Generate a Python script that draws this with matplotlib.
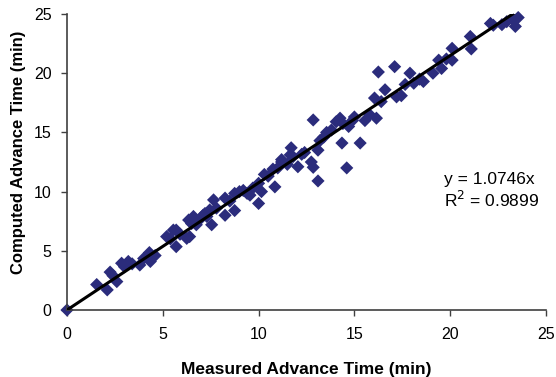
import matplotlib.pyplot as plt

# measured vs computed advance time (min)
measured = [
    0.0, 1.55, 2.1, 2.25, 2.4, 2.6, 2.85, 3.0, 3.2, 3.4, 3.8, 4.0, 4.3,
    4.35, 4.6, 5.2, 5.4, 5.55, 5.7, 5.7, 5.9, 6.25, 6.35, 6.4, 6.5, 6.6,
    6.75, 6.9, 7.1, 7.2, 7.3, 7.45, 7.55, 7.65, 7.8, 8.25, 8.25, 8.5,
    8.75, 8.75, 9.0, 9.2, 9.4, 9.55, 9.7, 10.0, 10.0, 10.15, 10.3, 10.5,
    10.75, 10.85, 11.0, 11.2, 11.2, 11.5, 11.65, 11.7, 11.8, 12.05, 12.25,
    12.4, 12.75, 12.85, 12.85, 13.1, 13.1, 13.2, 13.4, 13.55, 13.8, 14.05,
    14.25, 14.35, 14.4, 14.6, 14.7, 14.9, 15.0, 15.3, 15.55, 15.8, 16.05,
    16.15, 16.25, 16.4, 16.6, 17.1, 17.2, 17.45, 17.65, 17.9, 18.1, 18.4,
    18.6, 19.1, 19.4, 19.55, 19.8, 20.1, 20.1, 21.05, 21.1, 22.1, 22.25,
    22.7, 22.95, 23.3, 23.4, 23.55,
]
computed = [
    0.0, 2.15, 1.7, 3.2, 2.9, 2.4, 3.95, 3.65, 4.1, 3.9, 3.8, 4.35, 4.85,
    4.1, 4.6, 6.2, 6.0, 6.75, 6.75, 5.35, 6.4, 6.05, 7.6, 6.2, 7.3, 7.9,
    7.2, 7.6, 8.0, 8.15, 7.9, 8.45, 7.2, 9.3, 8.6, 9.45, 8.0, 9.2,
    9.85, 8.4, 10.0, 10.1, 9.85, 9.7, 10.3, 10.7, 9.0, 10.0, 11.45, 11.3,
    11.9, 10.4, 12.0, 12.5, 12.7, 12.3, 13.1, 13.7, 12.95, 12.1, 13.15,
    13.3, 12.5, 16.05, 12.05, 10.9, 13.5, 14.3, 14.6, 15.0, 15.2, 15.9,
    16.2, 14.1, 15.75, 12.0, 15.5, 16.0, 16.3, 14.1, 16.0, 16.5, 17.9,
    16.2, 20.1, 17.6, 18.6, 20.55, 18.0, 18.1, 19.05, 20.0, 19.15, 19.5,
    19.3, 20.0, 21.1, 20.4, 21.2, 22.1, 21.1, 23.1, 22.05, 24.2, 24.05,
    24.1, 24.35, 24.5, 23.95, 24.7,
]

slope = 1.0746
r_squared = 0.9899

plt.rcParams["font.family"] = ["Liberation Sans", "DejaVu Sans"]

fig = plt.figure(figsize=(5.56, 3.77), dpi=100)
ax = fig.add_axes([0.1205, 0.1777, 0.8615, 0.7852])

ax.scatter(measured, computed, marker="D", s=45, color="#2B2C7C",
           edgecolors="none", zorder=2, clip_on=False)

# trend line through the origin, drawn over the data range
x_end = max(measured)
ax.plot([0, x_end], [0, slope * x_end], color="black", linewidth=2.2, zorder=3)

ax.set_xlim(0, 25)
ax.set_ylim(0, 25)
ax.set_xticks(range(0, 26, 5))
ax.set_yticks(range(0, 26, 5))
ax.tick_params(direction="out", length=4, width=1, colors="#404040",
               labelcolor="black", labelsize=11.5)
ax.tick_params(axis="x", pad=8)
ax.tick_params(axis="y", pad=7)

for side in ("top", "right"):
    ax.spines[side].set_visible(False)
for side in ("left", "bottom"):
    ax.spines[side].set_color("#404040")
    ax.spines[side].set_linewidth(1.2)

ax.set_xlabel("Measured Advance Time (min)", fontsize=12.5, fontweight="bold")
ax.set_ylabel("Computed Advance Time (min)", fontsize=12, fontweight="bold")
ax.xaxis.set_label_coords(0.5, -0.175)
ax.yaxis.set_label_coords(-0.085, 0.534)

ax.text(19.7, 11.0, f"y = {slope}x", fontsize=12.5, va="center")
ax.text(19.7, 9.3, f"R$^2$ = {r_squared}", fontsize=12.5, va="center")

fig.savefig("out.png", dpi=100)
